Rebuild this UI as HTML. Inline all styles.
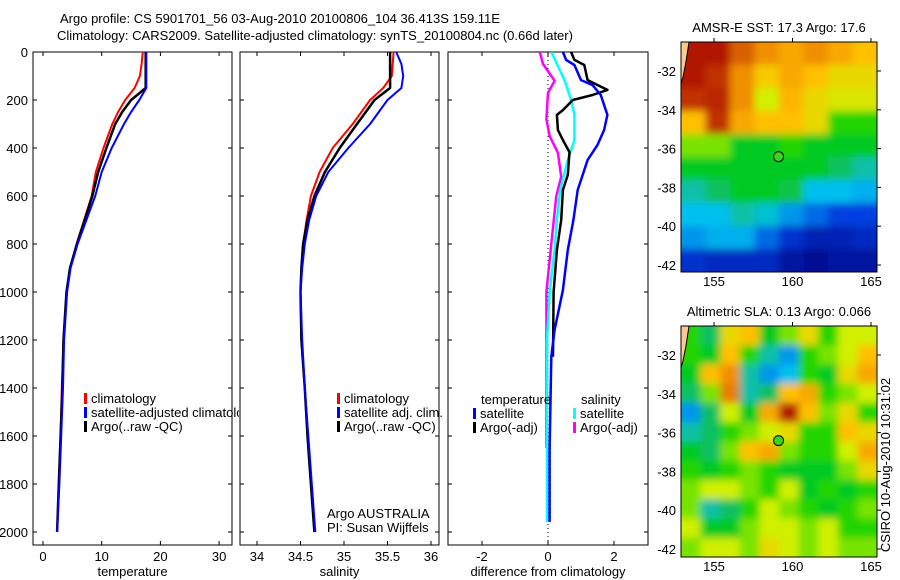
<!DOCTYPE html>
<html><head><meta charset="utf-8"><style>
body{margin:0;background:#fff;}
svg{display:block;font-family:"Liberation Sans",sans-serif;}
</style></head><body>
<svg id="fig" width="900" height="580" viewBox="0 0 900 580">
<defs>
<clipPath id="cp1"><rect x="33" y="52" width="199" height="493"/></clipPath>
<clipPath id="cp1t"><rect x="33" y="52" width="206" height="493"/></clipPath>
<clipPath id="cp2"><rect x="240" y="52" width="199" height="493"/></clipPath>
<clipPath id="cp3"><rect x="448" y="52" width="200" height="493"/></clipPath>
<clipPath id="cm1"><rect x="681" y="42" width="196" height="230"/></clipPath>
<clipPath id="cm2"><rect x="681" y="326" width="196" height="231"/></clipPath>
<filter id="bl" x="-5%" y="-5%" width="110%" height="110%"><feGaussianBlur stdDeviation="4"/></filter>
</defs>
<g font-size="13" fill="#000">
<text x="60" y="23">Argo profile: CS 5901701_56 03-Aug-2010 20100806_104 36.413S 159.11E</text>
<text x="57" y="40">Climatology: CARS2009. Satellite-adjusted climatology: synTS_20100804.nc (0.66d later)</text>
</g>
<g id="g1"></g>
<g id="g2"></g>
<g id="g3"></g>
<g id="m1"></g>
<g id="m2"></g>
<text x="0" y="0" font-size="13" transform="translate(890,465) rotate(-90)" text-anchor="middle">CSIRO 10-Aug-2010 10:31:02</text>
</svg>
<script>
// ---- data ----
const depthT = [0,50,100,150,200,250,300,400,500,600,700,800,900,1000,1200,1400,1600,1800,2000];
const tempClim = [17.0,16.8,16.5,15.6,14.0,12.8,11.8,10.3,9.0,8.3,7.0,5.7,4.6,4.0,3.5,3.2,3.0,2.7,2.4];
const tempSat  = [17.6,17.6,17.6,17.6,16.4,15.0,13.8,11.7,10.0,8.9,7.4,5.9,4.7,4.1,3.6,3.4,3.1,2.8,2.4];
const tempArgo = [17.5,17.5,17.5,17.5,15.0,13.5,12.3,10.8,9.4,8.4,7.1,5.8,4.6,4.0,3.5,3.3,3.0,2.7,2.4];
const salClim = [35.57,35.56,35.55,35.45,35.3,35.2,35.1,34.87,34.72,34.62,34.57,34.53,34.51,34.5,34.51,34.55,34.58,34.62,34.66];
const salSat  = [35.6,35.66,35.68,35.66,35.5,35.4,35.3,35.05,34.82,34.68,34.6,34.55,34.52,34.5,34.52,34.55,34.59,34.63,34.67];
const salArgo = [35.53,35.53,35.53,35.53,35.35,35.25,35.15,34.95,34.78,34.66,34.58,34.53,34.51,34.5,34.51,34.55,34.58,34.62,34.66];
const dTsatDepth = [0,33,54,117,138,179,221,262,325,387,450,575,700,825,992,1158,1270,1658,1958];
const dTsatVal   = [0.45,0.55,0.8,1.0,1.35,1.6,1.7,1.8,1.7,1.5,1.2,0.9,0.77,0.6,0.45,0.2,0.1,0.05,0.05];
const dTargoDepth = [0,33,54,117,158,179,200,242,262,325,367,417,512,575,700,825,1000,1270];
const dTargoVal   = [0.7,0.8,1.1,1.2,1.8,1.35,0.75,0.45,0.27,0.3,0.45,0.65,0.6,0.45,0.4,0.27,0.17,0.15];
const dSsatDepth = [0,117,200,262,367,450,575,700,825,1000,1200,1500,1800,1958];
const dSsatVal   = [0.1,0.5,0.7,0.8,0.8,0.6,0.37,0.27,0.2,0.05,-0.03,-0.03,-0.03,-0.03];
const dSargoDepth = [0,50,120,170,280,350,420,520,600,800,1000,1200,1400,1650];
const dSargoVal   = [-0.25,-0.15,0.2,0.0,-0.05,0.05,0.3,0.4,0.25,0.1,-0.05,-0.05,-0.05,-0.05];
const depthTicks = [0,200,400,600,800,1000,1200,1400,1600,1800,2000];
const tempTicks = [0,10,20,30];
const salTicks = [34,34.5,35,35.5,36];
const diffTicks = [-2,0,2];
const latTicks = [-32,-34,-36,-38,-40,-42];
const lonTicks = [155,160,165];
const sstGrid = [
[.95,.95,.85,.8,.75,.8,.75,.7],
[.95,.9,.8,.68,.75,.7,.65,.65],
[.9,.92,.8,.6,.72,.65,.62,.62],
[.7,.9,.75,.7,.7,.65,.5,.5],
[.55,.55,.45,.45,.5,.45,.45,.45],
[.45,.45,.45,.45,.45,.45,.4,.35],
[.35,.4,.45,.45,.42,.3,.3,.28],
[.3,.3,.35,.32,.25,.2,.15,.15],
[.25,.28,.28,.2,.12,.08,.08,.1],
[.12,.1,.1,.1,.05,.03,.05,.05]];
const slaGrid = [
[.5,.4,.65,.7,.45,.55,.65,.5,.6,.6],
[.5,.45,.7,.5,.35,.25,.5,.55,.6,.7],
[.45,.7,.8,.35,.25,.3,.5,.45,.65,.75],
[.4,.55,.82,.35,.4,.7,.75,.5,.55,.6],
[.25,.4,.6,.45,.75,.95,.7,.55,.65,.5],
[.35,.4,.5,.55,.6,.65,.5,.5,.7,.65],
[.45,.4,.55,.7,.75,.55,.5,.5,.6,.75],
[.5,.45,.5,.55,.5,.45,.45,.45,.55,.65],
[.55,.6,.6,.55,.5,.6,.45,.5,.45,.5],
[.55,.35,.4,.5,.6,.55,.5,.45,.5,.55],
[.6,.45,.45,.55,.6,.6,.55,.6,.5,.5],
[.55,.6,.6,.55,.65,.6,.55,.6,.55,.55]];
const argoLon = 159.11, argoLat = -36.413;

// ---- helpers ----
const NS='http://www.w3.org/2000/svg';
function mk(tag,attrs,parent){const e=document.createElementNS(NS,tag);for(const k in attrs)e.setAttribute(k,attrs[k]);parent.appendChild(e);return e;}
const yD = d => 52 + d*0.24;
const xT = t => 43 + t*5.87;
const xS = s => 257 + (s-34)*87;
const xDf = v => 548 + v*33;

function axes(g,x0,x1,y0,y1,xs,xf,ylab,xname){
  const fr=mk('rect',{x:x0,y:y0,width:x1-x0,height:y1-y0,fill:'none',stroke:'#000','stroke-width':1},g);
  
  
  depthTicks.forEach(d=>{
    const y=yD(d);
    const t1=mk('line',{x1:x0,x2:x0+4,y1:y,y2:y,stroke:'#000'},g);
    
    
    const t2=mk('line',{x1:x1-4,x2:x1,y1:y,y2:y,stroke:'#000'},g);
    
    
    if(ylab){const tx=mk('text',{x:x0-5,y:y+5,'font-size':13,'text-anchor':'end'},g);tx.textContent=d;
      
      }
  });
  xs.forEach(v=>{
    const x=xf(v);
    const a=mk('line',{x1:x,x2:x,y1:y1-4,y2:y1,stroke:'#000'},g);
    
    
    const b=mk('line',{x1:x,x2:x,y1:y0,y2:y0+4,stroke:'#000'},g);
    
    
    const tx=mk('text',{x:x,y:561,'font-size':13,'text-anchor':'middle'},g);tx.textContent=v;
    
    
  });
  const xl=mk('text',{x:(x0+x1)/2,y:576,'font-size':13,'text-anchor':'middle'},g);xl.textContent=xname;
  
  
}
function line(g,ds,vs,xf,color,w,clip,name){
  const p=ds.map((d,i)=>(i?'L':'M')+xf(vs[i]).toFixed(1)+','+yD(d).toFixed(1)).join('');
  const e=mk('path',{d:p,fill:'none',stroke:color,'stroke-width':w,'clip-path':'url(#'+clip+')','stroke-linejoin':'round'},g);
  
  
}
function legend(g,x,y,color,label,clip){
  const b=mk('rect',{x:x,y:y-10,width:3,height:11,fill:color},g);
  
  
  const t=mk('text',{x:x+7,y:y,'font-size':13},g);t.textContent=label;
  if(clip)t.setAttribute('clip-path','url(#'+clip+')');
  
  
}
function txt(g,x,y,s,name){const t=mk('text',{x:x,y:y,'font-size':13},g);t.textContent=s;
  
  }

// panel 1
const g1=document.getElementById('g1');
axes(g1,33,232,52,545,tempTicks,xT,true,'temperature');
line(g1,depthT,tempClim,xT,'#ff0000',2,'cp1','temp-climatology-line');
line(g1,depthT,tempArgo,xT,'#000',2.5,'cp1','temp-argo-line');
line(g1,depthT,tempSat,xT,'#0000ff',2,'cp1','temp-satellite-line');
legend(g1,84,403,'#ff0000','climatology');
legend(g1,84,417,'#0000ff','satellite-adjusted climatology','cp1t');
legend(g1,84,431,'#000','Argo(..raw -QC)');
// panel 2
const g2=document.getElementById('g2');
axes(g2,240,439,52,545,salTicks,xS,false,'salinity');
line(g2,depthT,salClim,xS,'#ff0000',2,'cp2','sal-climatology-line');
line(g2,depthT,salArgo,xS,'#000',2.5,'cp2','sal-argo-line');
line(g2,depthT,salSat,xS,'#0000ff',2,'cp2','sal-satellite-line');
legend(g2,337,403,'#ff0000','climatology');
legend(g2,337,417,'#0000ff','satellite adj. clim.');
legend(g2,337,431,'#000','Argo(..raw -QC)');
txt(g2,327,518,'Argo AUSTRALIA','credit-text');
txt(g2,327,532,'PI: Susan Wijffels','pi-text');
// panel 3
const g3=document.getElementById('g3');
axes(g3,448,648,52,545,diffTicks,xDf,false,'difference from climatology');
const zl=mk('line',{x1:xDf(0),x2:xDf(0),y1:52,y2:545,stroke:'#000','stroke-dasharray':'1,3'},g3);


line(g3,dSargoDepth,dSargoVal,xDf,'#ff00ff',2.5,'cp3','sal-argo-diff-line');
line(g3,dSsatDepth,dSsatVal,xDf,'#00ffff',2.5,'cp3','sal-satellite-diff-line');
line(g3,dTargoDepth,dTargoVal,xDf,'#000',2.5,'cp3','temp-argo-diff-line');
line(g3,dTsatDepth,dTsatVal,xDf,'#0000ff',2.5,'cp3','temp-satellite-diff-line');
txt(g3,481,404,'temperature','legend-heading');
legend(g3,473,418,'#0000ff','satellite');
legend(g3,473,432,'#000','Argo(-adj)');
txt(g3,581,404,'salinity','legend-heading');
legend(g3,573,418,'#00ffff','satellite');
legend(g3,573,432,'#ff00ff','Argo(-adj)');

// maps
const stops=[[0,[0,0,128]],[.15,[0,64,224]],[.3,[0,192,240]],[.4,[16,192,96]],[.48,[0,208,0]],[.6,[208,240,0]],[.7,[255,192,0]],[.8,[240,144,0]],[.9,[192,48,0]],[1,[160,0,0]]];
function cmap(v){for(let i=1;i<stops.length;i++){if(v<=stops[i][0]){const a=stops[i-1],b=stops[i],f=(v-a[0])/(b[0]-a[0]);return 'rgb('+a[1].map((c,k)=>Math.round(c+(b[1][k]-c)*f)).join(',')+')';}}return 'rgb(160,0,0)';}
function map(id,x0,y0,w,h,grid,clip,title,latY32){
  const g=document.getElementById(id);
  const R=grid.length,C=grid[0].length,cw=w/C,ch=h/R;
  const gg=mk('g',{'clip-path':'url(#'+clip+')'},g);
  const inner=mk('g',{filter:'url(#bl)'},gg);
  for(let r=-1;r<=R;r++)for(let c=-1;c<=C;c++){
    const rr=Math.min(R-1,Math.max(0,r)),cc=Math.min(C-1,Math.max(0,c));
    const e=mk('rect',{x:x0+c*cw,y:y0+r*ch,width:cw+1,height:ch+1,fill:cmap(grid[rr][cc])},inner);
    
    
  }
  const land=mk('path',{d:`M${x0},${y0}L${x0+8},${y0}L${x0+2},${y0+35}L${x0},${y0+42}Z`,fill:'#ffc890',stroke:'none'},gg);
  
  
  const cst=mk('path',{d:`M${x0+8},${y0}L${x0+5},${y0+20}L${x0+2},${y0+35}L${x0-1},${y0+45}`,fill:'none',stroke:'#000'},gg);
  
  
  const fr=mk('rect',{x:x0,y:y0,width:w,height:h,fill:'none',stroke:'#000'},g);
  
  
  const lonX=l=>714+(l-155)*15.7, latY=l=>latY32+(-32-l)*19.4;
  latTicks.forEach(l=>{const y=latY(l);
    const a=mk('line',{x1:x0+w,x2:x0+w+4,y1:y,y2:y,stroke:'#000'},g);
    
    
    const t=mk('text',{x:x0-5,y:y+5,'font-size':13,'text-anchor':'end'},g);t.textContent=l;
    
    });
  lonTicks.forEach(l=>{const x=lonX(l);
    const a=mk('line',{x1:x,x2:x,y1:y0-4,y2:y0,stroke:'#000'},g);
    
    
    const t=mk('text',{x:x,y:y0+h+14,'font-size':13,'text-anchor':'middle'},g);t.textContent=l;
    
    });
  const tt=mk('text',{x:x0+w/2,y:y0-10,'font-size':13,'text-anchor':'middle'},g);tt.textContent=title;
  
  
  const ci=mk('circle',{cx:lonX(argoLon),cy:latY(argoLat),r:5,fill:'#40d020',stroke:'#000'},g);
  
  
}
map('m1',681,42,196,230,sstGrid,'cm1','AMSR-E SST: 17.3 Argo: 17.6',71);
map('m2',681,326,196,231,slaGrid,'cm2','Altimetric SLA: 0.13 Argo: 0.066',355);
</script>
</body></html>
